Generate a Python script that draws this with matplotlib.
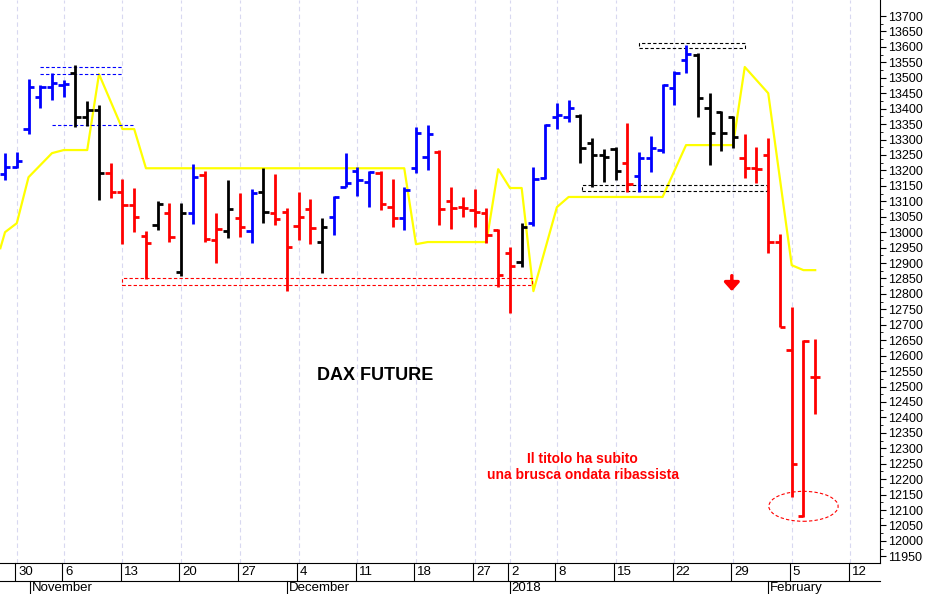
import matplotlib
matplotlib.use("Agg")
import matplotlib.pyplot as plt
from matplotlib.patches import Ellipse
import numpy as np

plt.rcParams['font.family'] = ['Liberation Sans Narrow', 'Liberation Sans', 'DejaVu Sans']

# OHLC per trading day (index 0 = 30 Oct 2017)
opens = [13190,13210,13334,13438,13470,13476,13515,13373,13395,13191,13130,13088,12987,13023,13062,12870,13062,13185,12974,13003,
         13046,13003,13130,13062,13065,13020,13075,12968,13049,13146,13198,13162,13191,13081,13046,13207,13243,13259,13100,13081,
         13071,13062,13007,12932,12903,13029,13175,13373,13373,13376,13289,13250,13269,13224,13182,13240,13266,13467,13557,13574,
         13402,13389,13373,13240,13207,13250,12968,12618,12080,12530]
highs = [13256,13259,13496,13476,13515,13493,13541,13425,13412,13224,13172,13143,13003,13101,13094,13094,13220,13198,13062,13169,
         13127,13140,13207,13188,13078,13130,13107,13046,13117,13256,13211,13198,13198,13172,13146,13340,13347,13266,13146,13114,
         13140,13078,13010,12952,13029,13211,13350,13418,13428,13383,13305,13269,13276,13353,13259,13311,13480,13522,13606,13580,
         13450,13392,13376,13318,13276,13305,12994,12757,12650,12653]
lows = [13169,13207,13318,13402,13428,13438,13340,13344,13104,13110,12961,13000,12848,13007,12968,12858,13026,12968,12900,12981,
        12984,12964,13029,13023,12809,12974,12961,12867,12990,13146,13117,13081,13071,13016,13007,13191,13201,13023,13010,13049,
        13016,12964,12822,12738,12887,13020,13172,13334,13357,13224,13146,13162,13169,13130,13130,13195,13256,13412,13515,13373,
        13217,13263,13272,13175,13159,12932,12692,12141,12077,12410]
closes = [13211,13230,13470,13470,13483,13480,13373,13395,13191,13130,13088,13049,12964,13091,12984,13062,13178,12977,13010,13075,
          13016,13127,13065,13042,12952,13049,13013,13016,13114,13159,13169,13195,13091,13046,13136,13321,13318,13075,13078,13078,
          13065,12990,12861,12890,13016,13172,13347,13379,13402,13272,13250,13243,13198,13156,13240,13272,13476,13515,13577,13434,
          13321,13321,13308,13207,13204,12968,12692,12248,12647,12530]
colors = ['b','b','b','b','b','b','k','k','k','r','r','r','r','k','r','k','b','r','r','k',
          'r','b','k','r','r','r','r','k','b','b','b','b','r','r','b','b','b','r','r','r',
          'r','r','r','r','k','b','b','b','b','k','k','k','k','r','b','b','b','b','b','k',
          'k','k','k','r','r','r','r','r','r','r']
color_map = {'b': '#0000ff', 'k': '#000000', 'r': '#ff0000'}

# Yellow indicator line (vertices)
ind_x = [-0.4,0,1,2,4,5,7,8,10,11,12,34,35,36,41,42,43,44,45,47,48,56,58,62,63,65,67,68,69]
ind_y = [12948,13000,13029,13178,13256,13266,13266,13512,13334,13334,13207,13207,12961,12968,12968,13204,13143,13143,12809,
         13081,13114,13114,13282,13282,13535,13450,12893,12877,12877]

xtick_pos = [1, 5, 10, 15, 20, 25, 30, 35, 40, 43, 47, 52, 57, 62, 67, 72]
xtick_labels = ['30','6','13','20','27','4','11','18','27','2','8','15','22','29','5','12']
month_pos = [2.1, 24, 43, 65]
month_labels = ['November', 'December', '2018', 'February']
yticks = list(range(11950, 13701, 50))

fig = plt.figure(figsize=(9.3, 5.94), dpi=100)
ax = fig.add_axes([0, 0.052, 0.946, 0.948])
ax.set_xlim(-0.43, 74.5)
ax.set_ylim(11928, 13752)

for p in xtick_pos:
    ax.axvline(p, color='#d8d8f0', lw=0.8, ls=(0, (4, 3)), zorder=0)

ax.plot(ind_x, ind_y, color='#ffff00', lw=1.6, zorder=1)

tw = 0.45
for i in range(len(opens)):
    c = color_map[colors[i]]
    ax.plot([i, i], [lows[i], highs[i]], color=c, lw=2.0, solid_capstyle='butt', zorder=3)
    ax.plot([i - tw, i], [opens[i], opens[i]], color=c, lw=2.0, solid_capstyle='butt', zorder=3)
    ax.plot([i, i + tw], [closes[i], closes[i]], color=c, lw=2.0, solid_capstyle='butt', zorder=3)

ds = (0, (3, 2))
ax.plot([3.0, 10.0], [13535, 13535], color='#0000ff', lw=0.8, ls=ds)
ax.plot([3.0, 10.0], [13512, 13512], color='#0000ff', lw=0.8, ls=ds)
ax.plot([4.0, 10.9], [13347, 13347], color='#0000ff', lw=0.8, ls=ds)
def box(x0, x1, y0, y1, col):
    ax.plot([x0, x1, x1, x0, x0], [y0, y0, y1, y1, y0], color=col, lw=0.8, ls=ds, zorder=2)
box(10.0, 44.9, 12828, 12851, '#ff0000')
box(54.0, 63.0, 13596, 13612, '#000000')
box(49.1, 64.9, 13133, 13152, '#000000')
ax.add_patch(Ellipse((68.0, 12112), 5.9, 97, fill=False, ec='#ff0000', lw=0.8, ls=ds))
ax.annotate('', xy=(61.9, 12800), xytext=(61.9, 12868),
            arrowprops=dict(arrowstyle='-|>,head_width=0.45,head_length=0.5', color='#ff0000', lw=2.5))

ax.text(31.5, 12537, 'DAX FUTURE', fontsize=13, fontweight='bold', family=['Liberation Sans', 'DejaVu Sans'],
        ha='center', va='center')
ax.text(49.2, 12240, 'Il titolo ha subito\nuna brusca ondata ribassista', fontsize=10, color='#ff0000',
        fontweight='bold', family=['Liberation Sans', 'DejaVu Sans'], ha='center', va='center', linespacing=1.15)

ax.set_xticks([])
ax.yaxis.tick_right()
ax.set_yticks(yticks)
ax.set_yticklabels([str(v) for v in yticks], fontsize=9)
ax.set_yticks(list(range(11950, 13701, 25)), minor=True)
ax.tick_params(axis='y', which='major', length=4, pad=2)
ax.tick_params(axis='y', which='minor', length=2)
for s in ['top', 'left']:
    ax.spines[s].set_visible(False)

# day labels row and month row
for p, l in zip(xtick_pos, xtick_labels):
    ax.text(p + 0.1, -0.005, l, transform=ax.get_xaxis_transform(), fontsize=9.5, ha='left', va='top', clip_on=False)
    ax.plot([p - 0.15, p - 0.15], [0, -0.03], transform=ax.get_xaxis_transform(), color='k', lw=0.8, clip_on=False)
ax.plot([-0.43, 74.5], [-0.032, -0.032], transform=ax.get_xaxis_transform(), color='k', lw=0.8, clip_on=False)
for p, l in zip(month_pos, month_labels):
    ax.text(p + 0.15, -0.034, l, transform=ax.get_xaxis_transform(), fontsize=9.5, ha='left', va='top', clip_on=False)
    ax.plot([p, p], [-0.032, -0.06], transform=ax.get_xaxis_transform(), color='k', lw=0.8, clip_on=False)

fig.savefig('out.png', dpi=100)
